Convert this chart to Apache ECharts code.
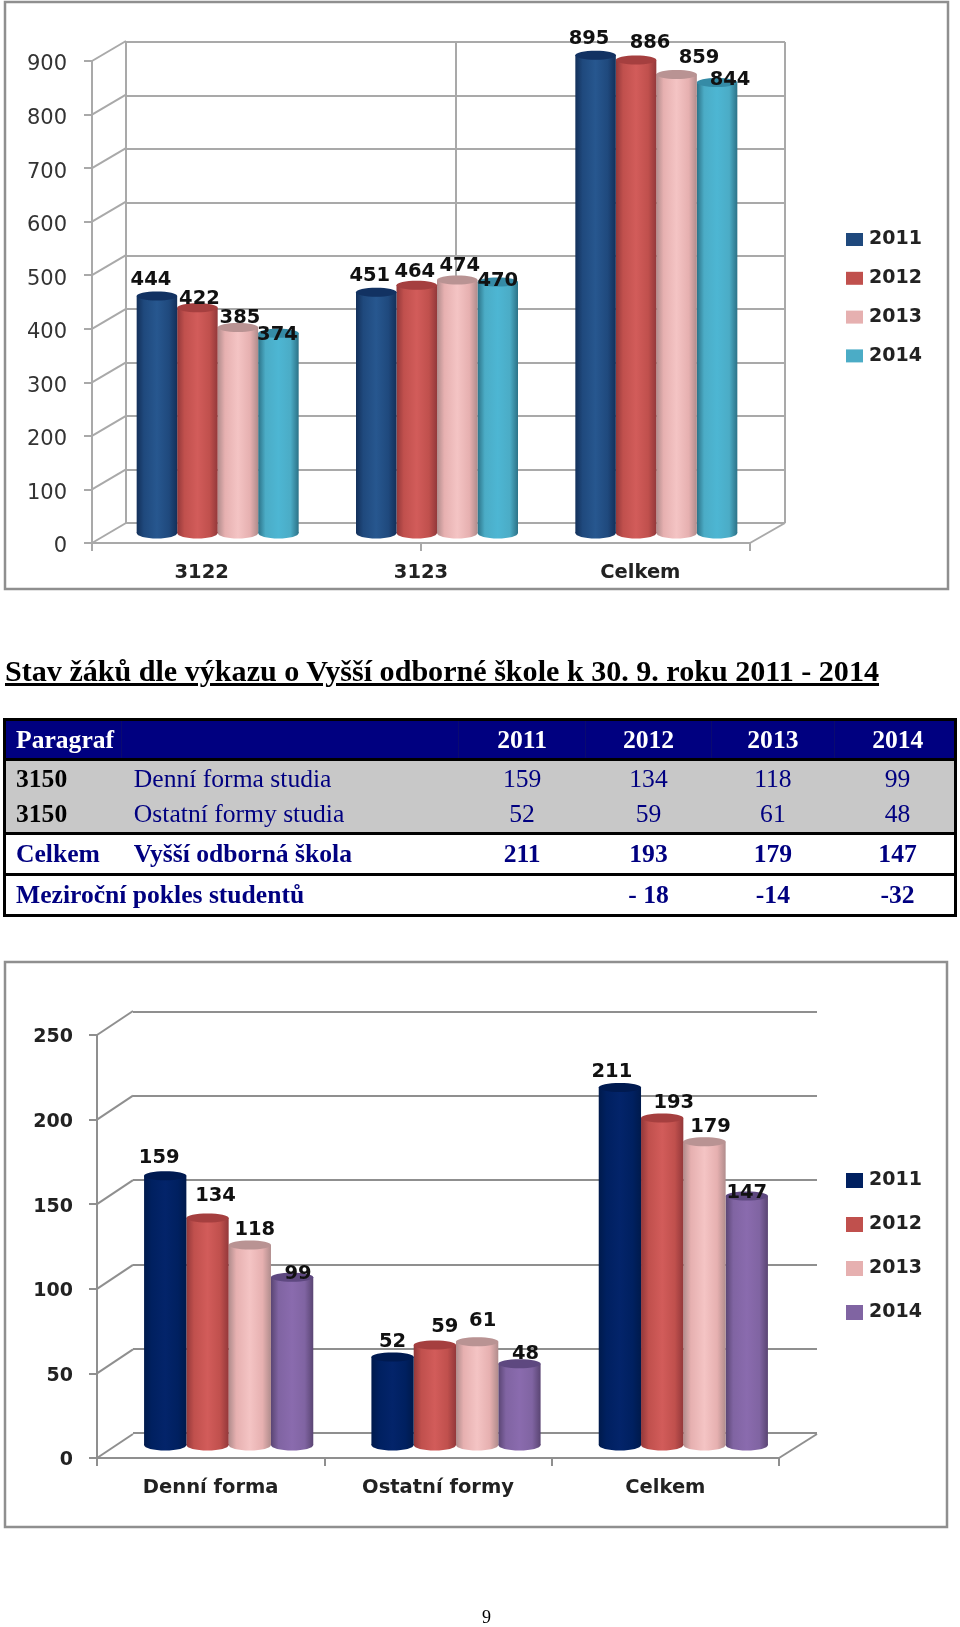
<!DOCTYPE html>
<html><head><meta charset="utf-8">
<script src="https://cdn.jsdelivr.net/npm/echarts@6/dist/echarts.min.js"></script>
<style>
html,body{margin:0;padding:0;background:#fff}
#wrap{position:relative;width:960px;height:1627px;overflow:hidden}
#chart{position:absolute;left:0;top:0;width:960px;height:1627px;filter:blur(0.4px)}
#title{position:absolute;left:5px;top:654px;font:bold 30.1px "Liberation Serif",serif;color:#000;text-decoration:underline;text-decoration-thickness:3px;white-space:nowrap}
#page{position:absolute;left:482px;top:1607px;font:18px "Liberation Serif",serif;color:#000}
table{position:absolute;left:3px;top:718px;width:954px;height:197px;border-collapse:collapse;table-layout:fixed;font:25.6px "Liberation Serif",serif;color:#000080;border-left:3px solid #000;border-right:3px solid #000}
td{padding:0;white-space:nowrap;text-align:center;overflow:visible}
td.l{text-align:left;padding-left:12px}
td.f{padding-left:10px}
td.z{padding-left:7px}
tr.h{height:40px;background:#000080;color:#fff;font-weight:bold}
tr.h td{border-left:1px solid #0a0a70;border-top:3px solid #000;border-bottom:3px solid #000}
tr.g{height:37px;background:#c8c8c8}
tr.b{font-weight:bold;height:41px}
tr.t td{border-top:3px solid #000}
tr.e td{border-bottom:3px solid #000}
td.k{color:#000;font-weight:bold}
</style></head><body>
<div id="wrap"><div id="chart"></div>
<div id="title">Stav žáků dle výkazu o Vyšší odborné škole k 30. 9. roku 2011 - 2014</div>
<table id="tbl"></table>
<div id="page">9</div></div>
<script>
// --- chart 1 data
const years = ['2011','2012','2013','2014'];
const cats1 = ['3122','3123','Celkem'];
const c1y2011 = [444,451,895];
const c1y2012 = [422,464,886];
const c1y2013 = [385,474,859];
const c1y2014 = [374,470,844];
const ticks1 = [0,100,200,300,400,500,600,700,800,900];
// --- chart 2 data
const cats2 = ['Denní forma','Ostatní formy','Celkem'];
const c2y2011 = [159,52,211];
const c2y2012 = [134,59,193];
const c2y2013 = [118,61,179];
const c2y2014 = [99,48,147];
const ticks2 = [0,50,100,150,200,250];
// --- table data
const tblHead = ['Paragraf','','2011','2012','2013','2014'];
const tblRow1 = ['3150','Denní forma studia','159','134','118','99'];
const tblRow2 = ['3150','Ostatní formy studia','52','59','61','48'];
const tblRow3 = ['Celkem','Vyšší odborná škola','211','193','179','147'];
const tblRow4 = ['Meziroční pokles studentů','','- 18','-14','-32'];

// label placement relative to cylinder top (style, not data)
const nudge1 = [
 [[-6,-16],[-6.5,-16],[-6.5,-16]],
 [[2,-9],[-2,-13],[14,-17]],
 [[2,-9.5],[2.5,-14],[22.5,-16.5]],
 [[-1,2],[0,-1],[13,-2.5]]];
const nudge2 = [
 [[-6,-18],[0,-15],[-8,-15.5]],
 [[8,-22],[10,-18.5],[11.6,-15.5]],
 [[5,-15.5],[5.5,-20.5],[6,-14.5]],
 [[6,-3.5],[6,-10],[0,-3.5]]];

const pal1 = [
 {l:'#27578f',d:'#13305a',t:'#123262',m:'#1f497d'},
 {l:'#d25c5a',d:'#93383a',t:'#a53f3f',m:'#c0504d'},
 {l:'#f4c4c4',d:'#b08c8c',t:'#b99393',m:'#e6b0b0'},
 {l:'#4db6d3',d:'#2c7287',t:'#358ba6',m:'#4bacc6'}];
const pal2 = [
 {l:'#03246a',d:'#001a4c',t:'#001a50',m:'#002060'},
 pal1[1], pal1[2],
 {l:'#8a6bae',d:'#5a4573',t:'#5e4880',m:'#8064a2'}];

function cyl(pal, si, nudge, barW){
 return function(params, api){
  const cat = api.value(0), v = api.value(1);
  const base = api.coord([cat,0]), top = api.coord([cat,v]);
  const cx = base[0] + (si-1.5)*barW, x = cx-barW/2, ry = 5.5, rx = barW/2;
  const c = pal[si];
  const fill = {type:'linear',x:0,y:0,x2:1,y2:0,colorStops:[
    {offset:0,color:c.d},{offset:.18,color:c.m},{offset:.5,color:c.l},{offset:.8,color:c.m},{offset:1,color:c.d}]};
  const n = nudge[si][cat];
  return {type:'group',children:[
   {type:'ellipse',shape:{cx:cx,cy:base[1],rx:rx,ry:ry},style:{fill:fill}},
   {type:'rect',shape:{x:x,y:top[1],width:barW,height:base[1]-top[1]},style:{fill:fill}},
   {type:'ellipse',shape:{cx:cx,cy:top[1],rx:rx,ry:ry-1},style:{fill:c.t}},
   {type:'text',z2:50,style:{x:cx+n[0],y:top[1]+n[1],text:String(v),align:'center',verticalAlign:'middle',
      font:'bold 19.5px "DejaVu Sans"',fill:'#111'}}
  ]};
 };
}
function depth(dx,dy,color){
 return function(params, api){
  const p = api.coord([api.value(0),api.value(1)]);
  return {type:'line',shape:{x1:p[0],y1:p[1],x2:p[0]+dx,y2:p[1]+dy},style:{stroke:color,lineWidth:2}};
 };
}

const grids=[],xAxes=[],yAxes=[],series=[],legends=[],graphic=[];
function build(o){
 const g0=grids.length;
 // front plane (axes), back wall, bar plane, y-label plane
 grids.push({left:o.fx,top:o.ftop,width:o.fw,height:o.fh});
 grids.push({left:o.bx,top:o.btop,width:o.bw,height:o.bh});
 grids.push({left:o.mx,top:o.mtop,width:o.fw,height:o.mh});
 grids.push({left:o.fx,top:o.ftop+o.yShift,width:o.fw,height:o.fh});
 const x0=xAxes.length,y0=yAxes.length;
 const line={lineStyle:{color:o.axis,width:2}};
 const font={fontFamily:'DejaVu Sans'};
 xAxes.push({gridIndex:g0,type:'category',data:o.cats,position:'bottom',axisLine:{show:true,...line},axisTick:{show:false},
   axisLabel:{...font,fontSize:19.5,fontWeight:'bold',color:'#222',margin:o.catMargin},splitLine:{show:false}});
 xAxes.push({gridIndex:g0,type:'value',min:0,max:o.tickDiv,interval:1,position:'bottom',axisLine:{show:false},
   axisTick:{show:true,length:8,...line},axisLabel:{show:false},splitLine:{show:false}});
 xAxes.push({gridIndex:g0+1,type:'value',min:0,max:2,interval:1,axisLine:{show:false},axisTick:{show:false},axisLabel:{show:false},
   splitLine:{show:o.backVert,...line}});
 xAxes.push({gridIndex:g0+2,type:'category',data:o.cats,show:false});
 xAxes.push({gridIndex:g0+3,type:'category',data:o.cats,show:false});
 yAxes.push({gridIndex:g0,type:'value',min:0,max:o.max,interval:o.step,axisLine:{show:true,...line},
   axisTick:{show:true,length:8,...line},axisLabel:{show:false},splitLine:{show:false}});
 yAxes.push({gridIndex:g0+1,type:'value',min:0,max:o.max,interval:o.step,axisLine:{show:false},axisTick:{show:false},axisLabel:{show:false},
   splitLine:{show:true,...line}});
 yAxes.push({gridIndex:g0+2,type:'value',min:0,max:o.max,show:false});
 yAxes.push({gridIndex:g0+3,type:'value',min:0,max:o.max,interval:o.step,axisLine:{show:false},axisTick:{show:false},splitLine:{show:false},
   axisLabel:{...font,fontSize:o.yFont,fontWeight:o.yWeight,color:o.yColor,margin:o.yMargin}});
 series.push({type:'custom',name:'left depth',coordinateSystem:'cartesian2d',xAxisIndex:x0+1,yAxisIndex:y0,silent:true,clip:false,legendHoverLink:false,
   encode:{x:0,y:1},renderItem:depth(o.bx-o.fx,o.bdy,o.axis),data:o.ticks.map(t=>[0,t])});
 series.push({type:'custom',name:'right depth',coordinateSystem:'cartesian2d',xAxisIndex:x0+1,yAxisIndex:y0,silent:true,clip:false,
   encode:{x:0,y:1},renderItem:depth(o.bx+o.bw-o.fx-o.fw,o.bdy,o.axis),data:[[o.tickDiv,0]]});
 // right-most drawn first so that the left cylinders overlap
 for(let i=3;i>=0;i--){
  series.push({type:'custom',name:years[i],coordinateSystem:'cartesian2d',xAxisIndex:x0+3,yAxisIndex:y0+2,clip:false,silent:true,
   encode:{x:0,y:1},renderItem:cyl(o.pal,i,o.nudge,o.barW),data:o.vals[i].map((v,c)=>[c,v])});
 }
 legends.push({orient:'vertical',left:o.legX,top:o.legY,itemWidth:17,itemHeight:o.legH,itemGap:o.legGap,icon:'rect',selectedMode:false,
   textStyle:{fontFamily:'DejaVu Sans',fontSize:19,fontWeight:'bold',color:'#222',padding:[0,0,0,1]},
   data:years.map((y,i)=>({name:y,itemStyle:{color:o.pal[i].m}}))});
 graphic.push({type:'rect',shape:o.frame,style:{fill:'none',stroke:'#8f8f8f',lineWidth:2.5},z:-10});
}
build({cats:cats1,vals:[c1y2011,c1y2012,c1y2013,c1y2014],ticks:ticks1,max:900,step:100,pal:pal1,nudge:nudge1,barW:40.5,
 fx:92,ftop:61,fw:658,fh:482, bx:126,btop:42,bw:659,bh:481,bdy:-20, mx:108,mtop:52.5,mh:480.5,
 axis:'#a9a9a9',tickDiv:2,backVert:true,catMargin:20,yFont:21,yWeight:'normal',yColor:'#333',yMargin:25,yShift:4,
 legX:841,legY:225,legH:13,legGap:19.8,frame:{x:5,y:2,width:943,height:587}});
build({cats:cats2,vals:[c2y2011,c2y2012,c2y2013,c2y2014],ticks:ticks2,max:250,step:50,pal:pal2,nudge:nudge2,barW:42.3,
 fx:97,ftop:1035,fw:682,fh:423, bx:133,btop:1012,bw:684,bh:420.5,bdy:-24, mx:115,mtop:1021.5,mh:423.5,
 axis:'#8f8f8f',tickDiv:3,backVert:false,catMargin:20,yFont:19,yWeight:'bold',yColor:'#222',yMargin:24,yShift:2.5,
 legX:841,legY:1166,legH:15,legGap:25,frame:{x:5,y:962,width:942,height:565}});

const chart=echarts.init(document.getElementById('chart'),null,{renderer:'canvas',width:960,height:1627});
chart.setOption({animation:false,backgroundColor:'#fff',grid:grids,xAxis:xAxes,yAxis:yAxes,series:series,legend:legends,graphic:{elements:graphic},tooltip:{show:false}});

// table built from the lists above
const widths=[117,336,126,126,122,121];
function row(vals,cls,first){
 const cells=vals.map((v,i)=>{
  const c=(i<2?'l':'')+(i===0?' f':'')+(first&&i===0?' k':'')+(i===5?' z':'');
  return `<td class="${c}">${v}</td>`;}).join('');
 return `<tr class="${cls}">${cells}</tr>`;
}
const colg='<colgroup>'+widths.map(w=>`<col style="width:${w}px">`).join('')+'</colgroup>';
document.getElementById('tbl').innerHTML=colg+
 row(tblHead,'h')+row(tblRow1,'g',true)+row(tblRow2,'g',true)+row(tblRow3,'b t')+
 `<tr class="b t e"><td class="l f" colspan="2">${tblRow4[0]}</td><td></td><td>${tblRow4[2]}</td><td>${tblRow4[3]}</td><td class="z">${tblRow4[4]}</td></tr>`;
</script></body></html>
